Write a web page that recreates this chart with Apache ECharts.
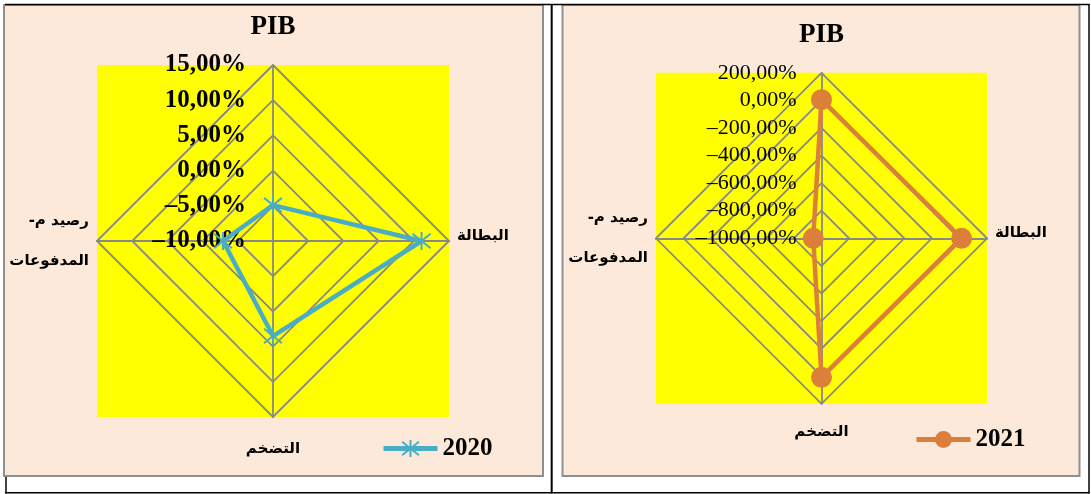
<!DOCTYPE html>
<html><head><meta charset="utf-8">
<script src="https://cdn.jsdelivr.net/npm/echarts@6/dist/echarts.min.js"></script>
<style>html,body{margin:0;padding:0;background:#fff}#c{width:1091px;height:494px}</style>
</head><body><div id="c"></div>
<script>
// ---- data ----
const categories = ['PIB', 'البطالة', 'التضخم', 'رصيد م-المدفوعات']; // clockwise from top
const values2020 = [-4.9, 11.1, 3.5, -2.9];
const values2021 = [5, 16, 8, -940];
const ticks2020 = [-10, -5, 0, 5, 10, 15];
const ticks2021 = [-1000, -800, -600, -400, -200, 0, 200];
const seriesNames = ['2020', '2021'];

// ---- style / layout ----
const BLUE = '#4BACC6', ORANGE = '#DC7F3A', GRID = '#888888';
const L = {cx: 273, cy: 241, r: 176};
const R = {cx: 821.5, cy: 238.3, r: 165.5};
const STAR = 'path://M2,2L18,18M18,2L2,18M10,0L10,20';
const ORDER = [0, 3, 2, 1]; // ECharts radar goes counter-clockwise

function tickFmt(v) {
  return (v < 0 ? '–' : '') + Math.abs(v).toFixed(2).replace('.', ',') + '%';
}
function nameFmt(name) {
  const i = categories.indexOf(name);
  if (i === 0) return '{t|' + name + '}';
  if (i === 1) return '{r|' + name + '}';
  if (i === 2) return '{b|' + name + '}';
  const k = name.indexOf('-') + 1;
  return '{l|' + name.slice(0, k) + '\u200F}\n{l|' + name.slice(k) + '}';
}
const AR = {fontFamily: '"DejaVu Sans", sans-serif', fontWeight: 'bold', fontSize: 15, color: '#000'};
function radarCfg(g, ticks, bPad, rPad) {
  return {
    center: [g.cx, g.cy], radius: g.r, shape: 'polygon', startAngle: 90,
    splitNumber: ticks.length - 1,
    indicator: ORDER.map(i => ({name: categories[i], min: ticks[0], max: ticks[ticks.length - 1]})),
    nameGap: 8,
    axisName: {
      formatter: nameFmt,
      rich: {
        t: {fontFamily: '"Liberation Serif", serif', fontWeight: 'bold', fontSize: 27, color: '#000', padding: [0, 0, 16, 0]},
        r: Object.assign({padding: [0, 0, rPad, 0]}, AR),
        b: Object.assign({padding: [bPad, 0, 0, 0]}, AR),
        l: Object.assign({lineHeight: 40}, AR)
      }
    },
    splitLine: {lineStyle: {color: GRID, width: 1.8}},
    splitArea: {show: false},
    axisLine: {lineStyle: {color: GRID, width: 1.8}},
    axisTick: {show: false},
    axisLabel: {show: false}
  };
}
function gridCfg(g) { return {left: g.cx, top: g.cy - g.r, width: 10, height: g.r}; }
function yCfg(idx, ticks, margin, bold, size) {
  return {
    gridIndex: idx, type: 'value', min: ticks[0], max: ticks[ticks.length - 1], interval: ticks[1] - ticks[0],
    axisLine: {show: false}, axisTick: {show: false}, splitLine: {show: false},
    axisLabel: {margin: margin, formatter: tickFmt, color: '#000', fontFamily: '"Liberation Serif", serif',
      fontWeight: bold ? 'bold' : 'normal', fontSize: size}
  };
}
function legendCfg(name, left, top) {
  return {
    data: [name], left: left, top: top, itemWidth: 54, itemHeight: 21, selectedMode: false,
    textStyle: {fontFamily: '"Liberation Serif", serif', fontWeight: 'bold', fontSize: 25, color: '#000'},
    lineStyle: {width: 5}, itemStyle: {borderWidth: 2}
  };
}

const graphics = [
  {type: 'rect', z: -10, shape: {x: 4, y: 5, width: 539, height: 471}, style: {fill: '#FDE9D9', stroke: '#8f8f8f', lineWidth: 2}},
  {type: 'rect', z: -10, shape: {x: 562.5, y: 5, width: 517, height: 471}, style: {fill: '#FDE9D9', stroke: '#8f8f8f', lineWidth: 2}},
  {type: 'rect', z: -9, shape: {x: L.cx - L.r, y: L.cy - L.r, width: 2 * L.r, height: 2 * L.r}, style: {fill: '#FFFF00'}},
  {type: 'rect', z: -9, shape: {x: R.cx - R.r, y: R.cy - R.r, width: 2 * R.r, height: 2 * R.r}, style: {fill: '#FFFF00'}},
  {type: 'line', z: -8, shape: {x1: 5, y1: 4.5, x2: 1089.5, y2: 4.5}, style: {stroke: '#000', lineWidth: 1.5}},
  {type: 'line', z: -11, shape: {x1: 6, y1: 4, x2: 6, y2: 493.5}, style: {stroke: '#000', lineWidth: 1.5}},
  {type: 'line', z: -8, shape: {x1: 551.7, y1: 4, x2: 551.7, y2: 493.5}, style: {stroke: '#000', lineWidth: 2}},
  {type: 'line', z: -8, shape: {x1: 1089, y1: 4, x2: 1089, y2: 493.5}, style: {stroke: '#000', lineWidth: 1.5}},
  {type: 'line', z: -8, shape: {x1: 5, y1: 492.8, x2: 1089.5, y2: 492.8}, style: {stroke: '#000', lineWidth: 1.5}}
];

const chart = echarts.init(document.getElementById('c'), null, {renderer: 'canvas'});
chart.setOption({
  animation: false,
  backgroundColor: '#fff',
  graphic: {elements: graphics},
  radar: [radarCfg(L, ticks2020, 17, 10), radarCfg(R, ticks2021, 13, 10)],
  grid: [gridCfg(L), gridCfg(R)],
  xAxis: [
    {gridIndex: 0, type: 'value', min: 0, max: 1, show: false},
    {gridIndex: 1, type: 'value', min: 0, max: 1, show: false}
  ],
  yAxis: [yCfg(0, ticks2020, 27, true, 25), yCfg(1, ticks2021, 25, false, 22)],
  legend: [legendCfg(seriesNames[0], 376, 431), legendCfg(seriesNames[1], 909, 422)],
  series: [
    {type: 'line', name: seriesNames[0], xAxisIndex: 0, yAxisIndex: 0, data: [], symbol: STAR, symbolSize: 17,
      lineStyle: {color: BLUE, width: 5}, itemStyle: {color: BLUE, borderColor: BLUE, borderWidth: 2}},
    {type: 'line', name: seriesNames[1], xAxisIndex: 1, yAxisIndex: 1, data: [], symbol: 'circle', symbolSize: 17,
      lineStyle: {color: ORANGE, width: 5}, itemStyle: {color: ORANGE}},
    {type: 'radar', name: seriesNames[0], radarIndex: 0, symbol: STAR, symbolSize: 18,
      lineStyle: {color: BLUE, width: 4.5}, itemStyle: {color: BLUE, borderColor: BLUE, borderWidth: 2},
      data: [{value: ORDER.map(i => values2020[i])}]},
    {type: 'radar', name: seriesNames[1], radarIndex: 1, symbol: 'circle', symbolSize: 21,
      lineStyle: {color: ORANGE, width: 4.5}, itemStyle: {color: ORANGE, borderWidth: 0},
      data: [{value: ORDER.map(i => values2021[i])}]}
  ]
});
</script></body></html>
